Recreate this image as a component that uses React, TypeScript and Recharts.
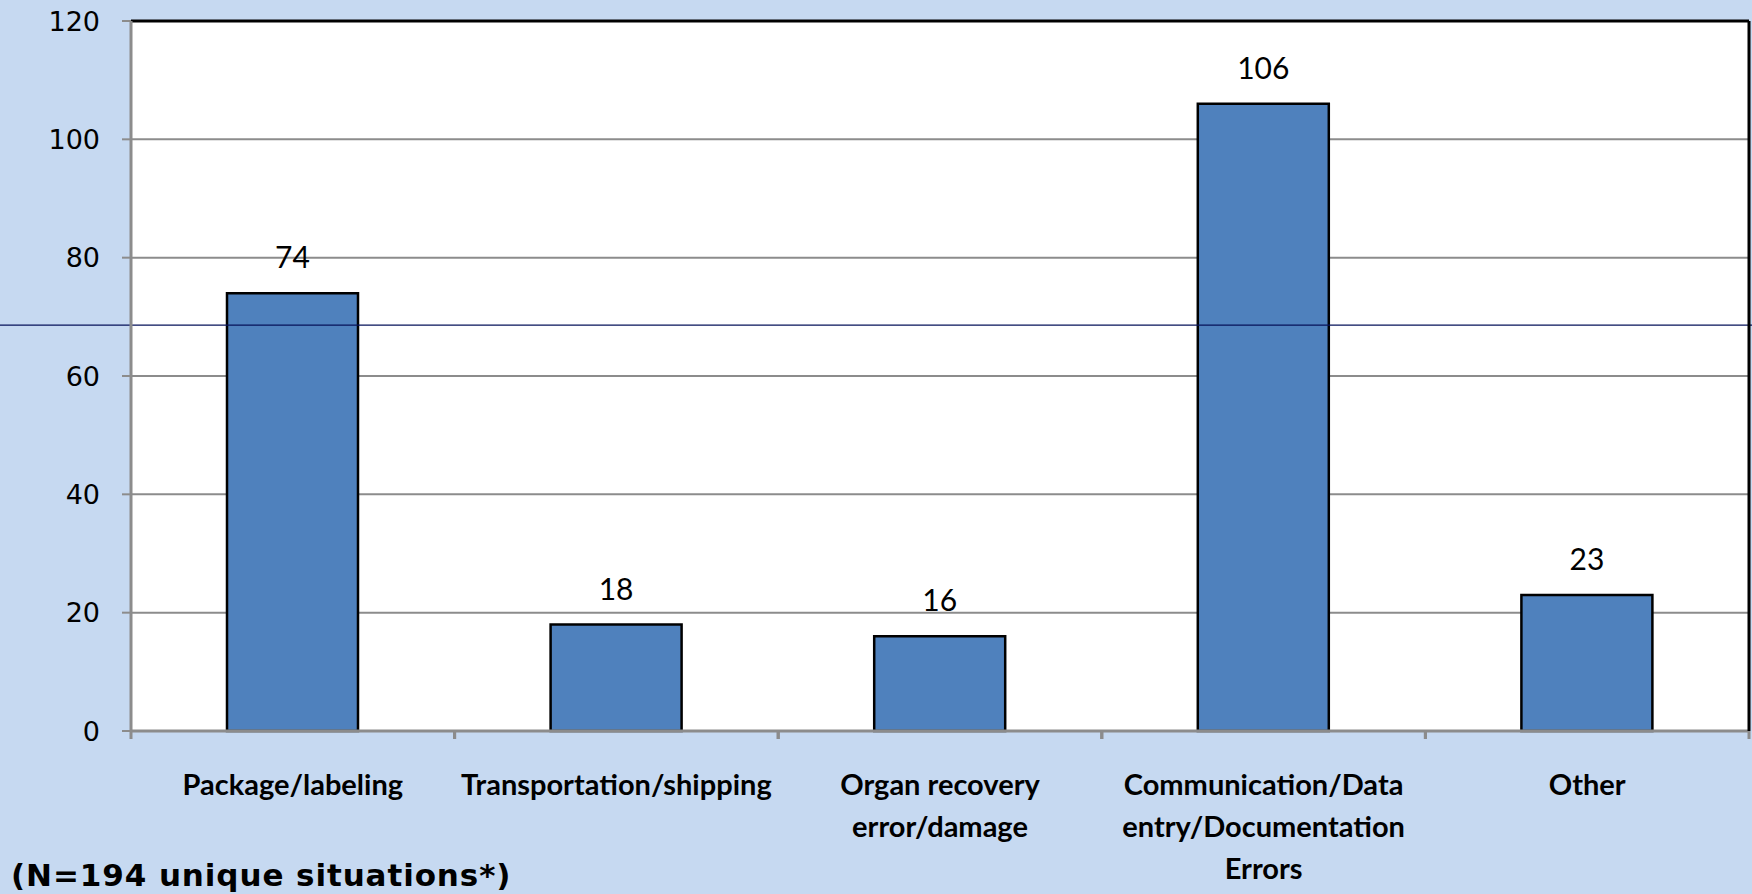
import { BarChart, Bar, XAxis, YAxis, CartesianGrid, LabelList, ReferenceLine } from "recharts";

const categories = [
  "Package/labeling",
  "Transportation/shipping",
  "Organ recovery\nerror/damage",
  "Communication/Data\nentry/Documentation\nErrors",
  "Other",
];
const counts = [74, 18, 16, 106, 23];
const yTicks = [0, 20, 40, 60, 80, 100, 120];
const overlayLineValue = 68.6;

const data = categories.map((name, i) => ({ name, value: counts[i] }));

function CategoryTick(props: any) {
  const { x, y, payload } = props;
  const half = payload?.offset ?? 0;
  const lines = String(payload.value).split("\n");
  return (
    <g>
      <line x1={x - half} x2={x - half} y1={y} y2={y + 8} stroke="#8c8c8c" strokeWidth={3} />
      <line x1={x + half} x2={x + half} y1={y} y2={y + 8} stroke="#8c8c8c" strokeWidth={3} />
      <text
        x={x}
        y={y + 64}
        textAnchor="middle"
        fontFamily="Lato"
        fontWeight="bold"
        fontSize={29}
        fill="#000"
      >
        {lines.map((l, i) => (
          <tspan key={i} x={x} dy={i === 0 ? 0 : 42}>
            {l}
          </tspan>
        ))}
      </text>
    </g>
  );
}

function OverlayLine(p: any) {
  return <line x1={0} x2={1752} y1={p.y1} y2={p.y2} stroke="#06125a" strokeWidth={1.3} />;
}

export default function App() {
  return (
    <div style={{ position: "absolute", left: 0, top: 0, width: 1752, height: 894, background: "#c6d9f1" }}>
      <BarChart width={1752} height={894} data={data} margin={{ top: 21, right: 0, bottom: 0, left: 0 }}>
        <CartesianGrid vertical={false} stroke="#8c8c8c" strokeWidth={2} fill="#fff" fillOpacity={1} />
        <XAxis
          dataKey="name"
          height={163}
          interval={0}
          tickLine={false}
          tickSize={0}
          tickMargin={0}
          axisLine={{ stroke: "#8c8c8c", strokeWidth: 3 }}
          tick={<CategoryTick />}
        />
        <YAxis
          width={131}
          domain={[0, 120]}
          ticks={yTicks}
          tickSize={9}
          tickMargin={22}
          tickLine={{ stroke: "#8c8c8c", strokeWidth: 2 }}
          axisLine={{ stroke: "#8c8c8c", strokeWidth: 3 }}
          tick={{ fontFamily: "DejaVu Sans", fontSize: 27, fill: "#000" }}
        />
        <YAxis
          yAxisId="right"
          orientation="right"
          width={3}
          tick={false}
          tickLine={false}
          axisLine={{ stroke: "#000", strokeWidth: 3 }}
        />
        <Bar dataKey="value" fill="#4f81bd" stroke="#000" strokeWidth={2.5} barSize={131} isAnimationActive={false}>
          <LabelList dataKey="value" position="top" offset={25} fill="#000" fontFamily="Lato" fontSize={30} />
        </Bar>
        <ReferenceLine y={120} stroke="#000" strokeWidth={3} />
        <ReferenceLine y={overlayLineValue} shape={<OverlayLine />} />
      </BarChart>
      <div
        style={{
          position: "absolute",
          left: 11,
          top: 860,
          fontFamily: "DejaVu Sans",
          fontWeight: "bold",
          fontSize: 31,
          letterSpacing: 0.9,
          lineHeight: "30px",
          whiteSpace: "nowrap",
          color: "#000",
        }}
      >
        (N=194 unique situations*)
      </div>
    </div>
  );
}
